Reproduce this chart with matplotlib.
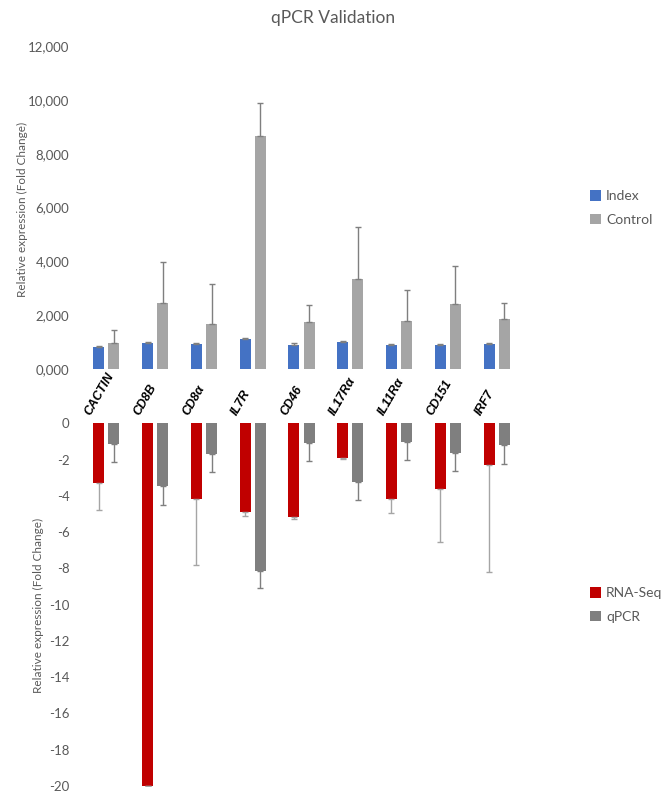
import matplotlib
matplotlib.use("Agg")
import matplotlib.pyplot as plt
from matplotlib.ticker import FuncFormatter
import numpy as np

plt.rcParams['font.family'] = ['Lato', 'DejaVu Sans']
plt.rcParams['axes.unicode_minus'] = False

genes = ["CACTIN", "CD8B", "CD8α", "IL7R", "CD46", "IL17Rα", "IL11Rα", "CD151", "IRF7"]

# top panel (relative expression, fold change)
index_vals = [0.81, 0.98, 0.93, 1.13, 0.88, 1.01, 0.89, 0.89, 0.94]
index_err = [0.03, 0.04, 0.03, 0.03, 0.07, 0.03, 0.03, 0.03, 0.04]
control_vals = [0.98, 2.44, 1.66, 8.66, 1.74, 3.36, 1.78, 2.41, 1.87]
control_err = [0.47, 1.53, 1.51, 1.24, 0.63, 1.91, 1.16, 1.42, 0.57]

# bottom panel
rnaseq_vals = [-3.27, -20.0, -4.18, -4.87, -5.15, -1.93, -4.15, -3.65, -2.31]
rnaseq_err = [1.51, 0.0, 3.62, 0.22, 0.11, 0.06, 0.77, 2.90, 5.89]
qpcr_vals = [-1.14, -3.46, -1.69, -8.15, -1.07, -3.21, -1.03, -1.62, -1.20]
qpcr_err = [1.01, 1.02, 1.01, 0.95, 1.03, 1.02, 1.01, 1.03, 1.02]

c_index = "#4472C4"
c_control = "#A5A5A5"
c_rna = "#C00000"
c_qpcr = "#7F7F7F"
txt = "#595959"

W, H = 666, 802
fig = plt.figure(figsize=(W / 100, H / 100), dpi=100)

x = np.arange(len(genes))
bw = 0.225
off = 0.155

left = 82 / W
width = 439 / W
ax1 = fig.add_axes([left, 1 - 369 / H, width, (369 - 46) / H])
ax2 = fig.add_axes([left, 1 - 786 / H, width, (786 - 423.3) / H])

zeros = np.zeros(len(genes))
ax1.bar(x - off, index_vals, bw, color=c_index, label="Index",
        yerr=[zeros, index_err], error_kw=dict(ecolor=c_qpcr, elinewidth=1, capsize=2.5, capthick=1))
ax1.bar(x + off, control_vals, bw, color=c_control, label="Control",
        yerr=[zeros, control_err], error_kw=dict(ecolor=c_qpcr, elinewidth=1, capsize=2.5, capthick=1))

ax2.bar(x - off, rnaseq_vals, bw, color=c_rna, label="RNA-Seq",
        yerr=[rnaseq_err, zeros], error_kw=dict(ecolor=c_control, elinewidth=1, capsize=2.5, capthick=1))
ax2.bar(x + off, qpcr_vals, bw, color=c_qpcr, label="qPCR",
        yerr=[qpcr_err, zeros], error_kw=dict(ecolor=c_qpcr, elinewidth=1, capsize=2.5, capthick=1))

for ax in (ax1, ax2):
    ax.set_xlim(-0.5, len(genes) - 0.5)
    ax.set_xticks([])
    for s in ax.spines.values():
        s.set_visible(False)
    ax.tick_params(axis='y', length=0, colors=txt, labelsize=9.5, pad=9)

ax1.set_ylim(0, 12)
ax1.set_yticks(np.arange(0, 13, 2))
ax1.yaxis.set_major_formatter(FuncFormatter(lambda v, p: f"{v:.3f}".replace(".", ",")))

ax2.set_ylim(-20, 0)
ax2.set_yticks(np.arange(-20, 1, 2))
ax2.yaxis.set_major_formatter(FuncFormatter(lambda v, p: f"{int(round(v))}"))

fig.text(22 / W, 1 - 209 / H, "Relative expression (Fold Change)", rotation=90,
         ha='center', va='center', fontsize=8.5, color=txt)
fig.text(38 / W, 1 - 605 / H, "Relative expression (Fold Change)", rotation=90,
         ha='center', va='center', fontsize=8.5, color=txt)

fig.text(0.5, 1 - 18 / H, "qPCR Validation", ha='center', va='center', fontsize=12.5, color=txt)

# gene labels between the two panels
for i, g in enumerate(genes):
    xf = left + (i + 0.5) / len(genes) * width - 13 / W
    fig.text(xf, 1 - 417 / H, g, rotation=60, rotation_mode='anchor', ha='left', va='bottom',
             family=['Liberation Sans', 'DejaVu Sans'], fontweight='bold', fontstyle='italic',
             fontsize=9, color='black')

leg_kw = dict(frameon=False, fontsize=10, labelcolor=txt, handlelength=0.8, handleheight=0.8,
              handletextpad=0.4, labelspacing=0.8, borderaxespad=0)
ax1.legend(loc='center left', bbox_to_anchor=((584 - 82) / 439, (369 - 208) / (369 - 46)), **leg_kw)
ax2.legend(loc='center left', bbox_to_anchor=((584 - 82) / 439, (786 - 605) / (786 - 423.3)), **leg_kw)

fig.savefig("out.png", dpi=100, facecolor='white')
